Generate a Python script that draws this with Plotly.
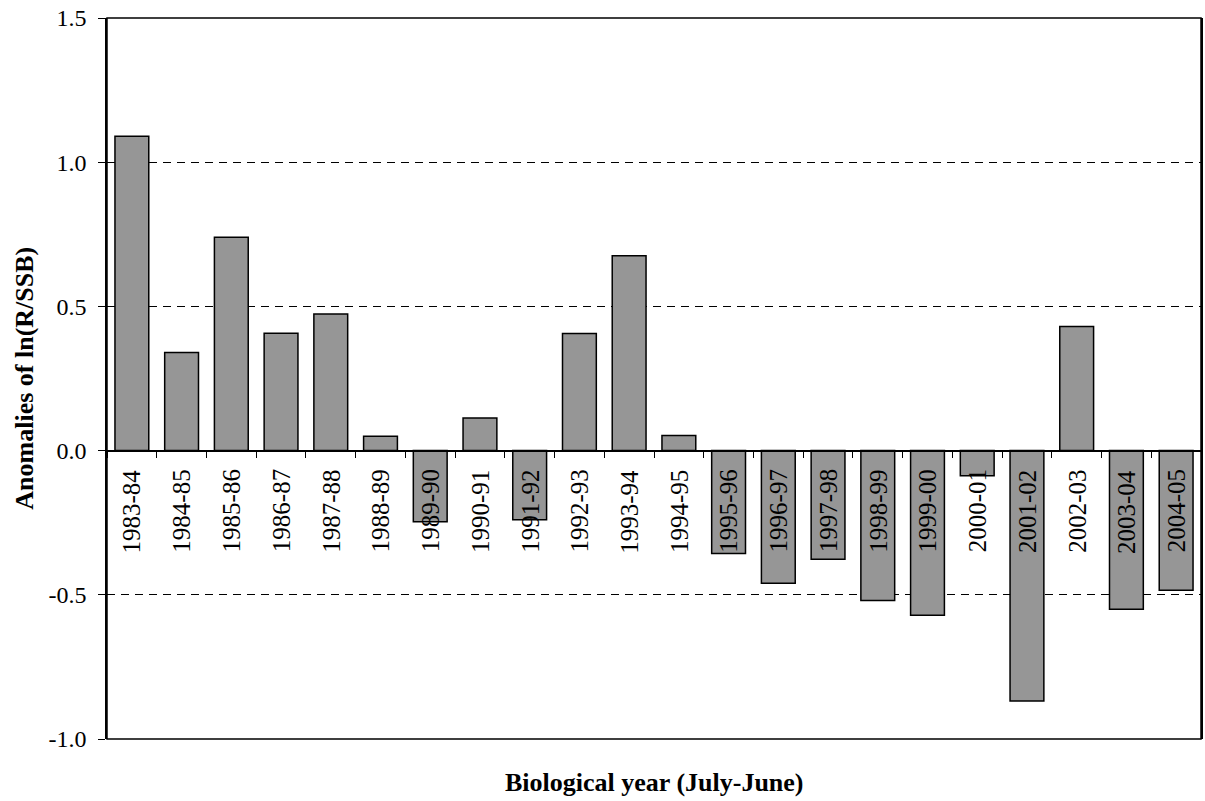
import plotly.graph_objects as go

years = ["1983-84", "1984-85", "1985-86", "1986-87", "1987-88", "1988-89",
         "1989-90", "1990-91", "1991-92", "1992-93", "1993-94", "1994-95",
         "1995-96", "1996-97", "1997-98", "1998-99", "1999-00", "2000-01",
         "2001-02", "2002-03", "2003-04", "2004-05"]
anomalies = [1.09, 0.34, 0.74, 0.407, 0.474, 0.05,
             -0.247, 0.113, -0.24, 0.406, 0.676, 0.052,
             -0.357, -0.46, -0.377, -0.52, -0.571, -0.087,
             -0.868, 0.43, -0.55, -0.484]
y_tickvals = [-1.0, -0.5, 0.0, 0.5, 1.0, 1.5]
y_ticktext = ["-1.0", "-0.5", "0.0", "0.5", "1.0", "1.5"]

FONT = "Liberation Serif, Times New Roman, serif"

fig = go.Figure(go.Bar(
    x=years, y=anomalies,
    marker=dict(color="#969696", line=dict(color="black", width=1.5)),
))

# category labels hanging below the zero line
label_annotations = [
    dict(text=yr, x=yr, y=0, xref="x", yref="y", showarrow=False,
         textangle=-90, xanchor="center", yanchor="top", yshift=-17,
         font=dict(family=FONT, size=25, color="black"))
    for yr in years
]

fig.update_layout(
    width=1205, height=801,
    margin=dict(l=107, r=2, t=18, b=62),
    plot_bgcolor="white", paper_bgcolor="white",
    showlegend=False, bargap=0.32,
    font=dict(family=FONT, color="black", size=24),
    xaxis=dict(
        type="category", anchor="free", position=0.4,
        showline=True, linecolor="black", linewidth=1.5,
        ticks="outside", ticklen=7, tickcolor="black", tickwidth=1,
        tickson="boundaries", showticklabels=False,
        showgrid=False, zeroline=False,
    ),
    yaxis=dict(
        range=[-1.0, 1.5], tickvals=y_tickvals, ticktext=y_ticktext,
        ticks="outside", ticklen=7, tickcolor="black", tickwidth=1,
        tickfont=dict(family=FONT, size=24, color="black"),
        showline=True, linecolor="black", linewidth=1.5, mirror=True,
        showgrid=True, gridcolor="black", gridwidth=1, griddash="8px,6px",
        zeroline=False, ticklabelstandoff=7,
    ),
    shapes=[dict(type="rect", xref="paper", yref="paper", x0=0, x1=1, y0=0, y1=1,
                 line=dict(color="black", width=1.5), layer="above")],
    annotations=label_annotations + [
        dict(text="<b>Biological year (July-June)</b>", xref="paper", yref="paper",
             x=0.5, y=-0.061, xanchor="center", yanchor="middle", showarrow=False,
             font=dict(family=FONT, size=26, color="black")),
        dict(text="<b>Anomalies of ln(R/SSB)</b>", xref="paper", yref="paper",
             x=-0.0757, y=0.5, xanchor="center", yanchor="middle", showarrow=False,
             textangle=-90, font=dict(family=FONT, size=26, color="black")),
    ],
)

fig.write_html("out.html", config={"displayModeBar": False},
               post_script="document.body.style.margin='0';document.body.style.overflow='hidden';")
